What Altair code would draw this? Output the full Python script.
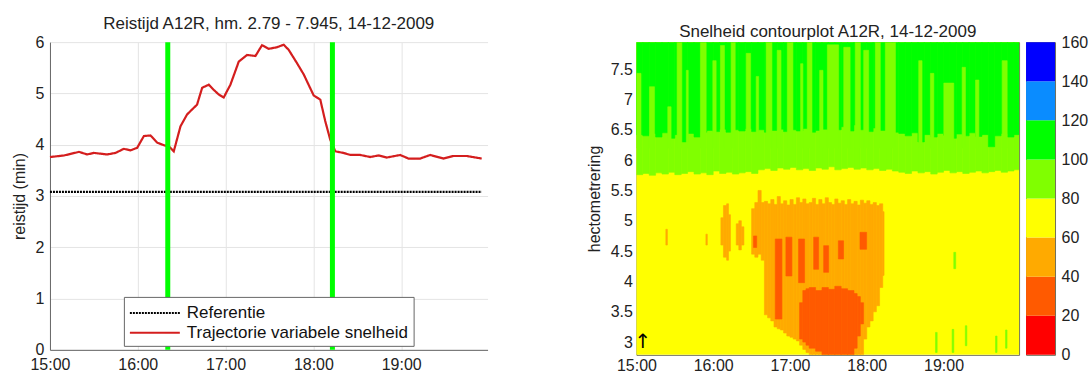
import altair as alt
import pandas as pd

# ---------------- shared axis data ----------------
HOUR_TICKS = [0, 60, 120, 180, 240]          # minutes after 15:00
HOUR_LABELS = ["15:00", "16:00", "17:00", "18:00", "19:00"]
T_MAX = 299

# ---------------- left panel: travel time ----------------
TRAJ_T = [0, 9.6, 19.8, 25.5, 30, 39.1, 44.8, 50.5, 55.1, 59.6, 64.2, 68.7, 73.3,
          77.8, 81.2, 84.6, 89.2, 93.7, 98.3, 100.5, 104, 108.5, 111.9, 115.3,
          118.7, 123.3, 129, 134.7, 140.4, 144.9, 149.5, 155.1, 159.7, 163.1,
          168.8, 173.4, 180.2, 184.7, 188.1, 191.5, 195, 200.6, 205.2, 212,
          218.8, 224.5, 230.2, 239.3, 245, 253, 259.8, 268.9, 275.7, 284.8, 295]
TRAJ_V = [3.76, 3.79, 3.86, 3.81, 3.84, 3.81, 3.84, 3.92, 3.89, 3.94, 4.17, 4.18,
          4.04, 3.99, 3.97, 3.87, 4.36, 4.59, 4.72, 4.78, 5.11, 5.17, 5.07, 4.98,
          4.92, 5.17, 5.62, 5.75, 5.73, 5.94, 5.87, 5.90, 5.95, 5.85, 5.59, 5.37,
          4.96, 4.88, 4.46, 4.10, 3.87, 3.84, 3.80, 3.80, 3.76, 3.79, 3.75, 3.80,
          3.73, 3.73, 3.80, 3.73, 3.78, 3.78, 3.73]
REF_T = [0, 295]
REF_V = [3.08, 3.08]
SERIES = ["Referentie", "Trajectorie variabele snelheid"]
SERIES_COLORS = ["#000000", "#d41e1e"]
SERIES_DASH = [[2, 1], [1, 0]]
GREEN_LINES_T = [80.5, 193.0]
Y_TICKS_LEFT = [0, 1, 2, 3, 4, 5, 6]

# ---------------- right panel: speed contour ----------------
HM_MIN, HM_MAX = 2.79, 7.945
HM_TICKS = [3, 3.5, 4, 4.5, 5, 5.5, 6, 6.5, 7, 7.5]
CLASS_EDGES = [0, 20, 40, 60, 80, 100, 120, 140, 160]
CLASS_COLORS = ["#ff0000", "#ff5a00", "#ffaa00", "#ffff00", "#80ff00",
                "#00ff00", "#0a8cff", "#0000ff"]

COL_STEP = 5  # minutes per column for the band boundaries
# boundary 60-80 | 80-100 (hm) per 5-minute column
B_YELLOW_LIGHTGREEN = [5.76, 5.78, 5.75, 5.79, 5.77, 5.80, 5.76, 5.78, 5.81, 5.77,
                       5.79, 5.76, 5.82, 5.78, 5.80, 5.77, 5.79, 5.81, 5.78,
                       5.84, 5.86, 5.83, 5.87, 5.85, 5.88, 5.84, 5.86, 5.83, 5.87,
                       5.85, 5.89, 5.84, 5.86, 5.88, 5.85, 5.87, 5.84, 5.86, 5.83,
                       5.85, 5.82,
                       5.80, 5.78, 5.82, 5.79, 5.81, 5.77, 5.80, 5.83, 5.79, 5.81,
                       5.78, 5.80, 5.82, 5.79, 5.81, 5.83, 5.80, 5.82, 5.84]
# boundary 80-100 | 100-120 (hm) per 5-minute column
B_LIGHTGREEN_GREEN = [6.42, 6.40, 6.44, 6.38,
                      6.45, 6.36, 6.42, 6.30, 6.44, 6.38, 6.46,
                      6.49, 6.47, 6.51, 6.46, 6.50, 6.48, 6.52, 6.47, 6.50, 6.46,
                      6.49, 6.51, 6.47, 6.50, 6.48, 6.52, 6.46, 6.49, 6.51, 6.47,
                      6.50, 6.55, 6.48, 6.58, 6.50, 6.47, 6.53, 6.49, 6.51, 6.46,
                      6.44, 6.40, 6.45, 6.30, 6.42, 6.38, 6.44, 6.41, 6.36, 6.43,
                      6.40, 6.45, 6.39, 6.42, 6.22, 6.40, 6.44, 6.38, 6.42]
# 80-100 streaks reaching up into the 100-120 zone: (t0, t1, top hm)
LIGHTGREEN_STREAKS = [(0, 3.6, 7.43), (10.2, 14.1, 7.21), (24.5, 27.1, 6.88),
                      (31.8, 35.5, 7.945), (39, 40.5, 7.48), (50, 54.5, 7.945),
                      (59.7, 62.3, 7.64), (65.7, 68.8, 7.89), (74, 77.2, 7.945),
                      (85.8, 89.2, 7.76), (93.6, 95.5, 7.38), (101.4, 105.9, 7.945),
                      (110, 113, 7.81), (117.9, 122.3, 7.945), (128.3, 130.1, 7.59),
                      (133.5, 137.2, 7.945), (143.2, 145.8, 7.48), (149.2, 158, 7.90),
                      (162, 167, 7.86), (171, 175, 7.945), (177.6, 181.5, 7.81),
                      (186.7, 190.6, 7.945), (194.5, 202.4, 7.945), (220.6, 223.2, 7.64),
                      (229.7, 232.4, 7.43), (240.2, 248, 7.27), (254.5, 257.1, 7.53),
                      (265, 267.6, 7.32), (285.8, 289.7, 7.64)]
# small 80-100 specks inside the 60-80 zone: (t0, t1, lo, hi)
LIGHTGREEN_SPECKS = [(233.7, 235.0, 2.83, 3.16), (246.7, 248.0, 2.83, 3.21),
                     (248.0, 249.5, 4.21, 4.48), (257.0, 258.2, 2.94, 3.27),
                     (280.6, 281.8, 2.83, 3.10), (288.4, 289.6, 2.90, 3.20)]
# 40-60 zones: (t0, t1, lo, hi)
ORANGE = [(23.0, 24.2, 4.60, 4.86), (54.3, 55.4, 4.60, 4.78),
          (66, 68, 4.60, 5.05), (68, 70.5, 4.40, 5.25), (70.5, 72, 4.35, 5.28),
          (72, 73.5, 4.50, 5.10),
          (78, 80, 4.60, 4.95), (80, 82, 4.52, 5.00), (82, 84, 4.60, 4.90),
          (90, 92.5, 4.45, 5.20), (92.5, 95, 4.40, 5.30), (95, 97.5, 4.45, 5.50),
          (97.5, 100, 4.35, 5.30), (100, 102.5, 3.45, 5.32), (102.5, 105, 3.40, 5.28),
          (105, 107.5, 3.35, 5.35), (107.5, 110, 3.25, 5.27), (110, 112.5, 3.22, 5.40),
          (112.5, 115, 3.20, 5.28), (115, 117.5, 3.15, 5.33), (117.5, 120, 3.10, 5.26),
          (120, 122.5, 3.08, 5.35), (122.5, 125, 3.05, 5.27), (125, 127.5, 3.02, 5.38),
          (127.5, 130, 2.95, 5.30), (130, 132.5, 2.88, 5.36), (132.5, 135, 2.83, 5.28),
          (135, 137.5, 2.79, 5.30), (137.5, 140, 2.79, 5.37), (140, 142.5, 2.79, 5.27),
          (142.5, 145, 2.79, 5.35), (145, 147.5, 2.79, 5.28), (147.5, 150, 2.79, 5.38),
          (150, 152.5, 2.79, 5.30), (152.5, 155, 2.79, 5.27), (155, 157.5, 2.79, 5.36),
          (157.5, 160, 2.79, 5.29), (160, 162.5, 2.79, 5.33), (162.5, 165, 2.79, 5.27),
          (165, 167.5, 2.79, 5.35), (167.5, 170, 2.79, 5.28), (170, 172.5, 2.79, 5.32),
          (172.5, 175, 2.79, 5.26), (175, 177.5, 2.79, 5.34), (177.5, 180, 3.05, 5.29),
          (180, 182.5, 3.25, 5.33), (182.5, 185, 3.35, 5.27), (185, 187.5, 3.50, 5.30),
          (187.5, 190, 3.60, 5.25), (190, 192.5, 3.90, 5.28), (192.5, 193.5, 4.10, 5.15)]
# 20-40 zones: (t0, t1, lo, hi)
DARK_ORANGE = [(91.5, 94, 4.56, 4.75), (108.5, 113.7, 3.38, 4.70),
               (116.8, 121.5, 4.09, 4.73), (126.7, 131.4, 3.98, 4.70),
               (138.5, 142.4, 4.20, 4.73), (146.3, 150.2, 4.15, 4.59),
               (157.8, 161.9, 4.37, 4.67), (174.7, 179.9, 4.53, 4.81),
               (127.5, 130, 3.05, 3.65), (130, 132.5, 3.00, 3.85),
               (132.5, 135, 2.95, 3.88), (135, 140, 2.90, 3.90),
               (140, 145, 2.85, 3.85), (145, 150, 2.79, 3.90),
               (150, 155, 2.79, 3.87), (155, 160, 2.79, 3.92),
               (160, 165, 2.79, 3.88), (165, 170, 2.79, 3.85),
               (170, 172.5, 2.90, 3.80), (172.5, 175, 3.10, 3.75),
               (175, 177.5, 3.30, 3.65)]
ARROW_T, ARROW_HM = 5, 3.0

# ---------------- build tables ----------------
label_expr = "[" + ",".join(f"'{l}'" for l in HOUR_LABELS) + "][round(datum.value/60)]"

line_df = pd.DataFrame({
    "t": REF_T + TRAJ_T,
    "v": REF_V + TRAJ_V,
    "s": [SERIES[0]] * len(REF_T) + [SERIES[1]] * len(TRAJ_T),
})
green_df = pd.DataFrame({"t": GREEN_LINES_T})


def boxes(items):
    return pd.DataFrame(items, columns=["t0", "t1", "lo", "hi"])


base_df = boxes([(0, 300, HM_MIN, HM_MAX)])
lg_band_df = boxes([(i * COL_STEP, (i + 1) * COL_STEP, b, HM_MAX)
                    for i, b in enumerate(B_YELLOW_LIGHTGREEN)])
g_band_df = boxes([(i * COL_STEP, (i + 1) * COL_STEP, b, HM_MAX)
                   for i, b in enumerate(B_LIGHTGREEN_GREEN)])
lg_extra_df = boxes([(t0, t1, 6.2, top) for t0, t1, top in LIGHTGREEN_STREAKS]
                    + list(LIGHTGREEN_SPECKS))
orange_df = boxes(ORANGE)
dark_df = boxes(DARK_ORANGE)

cbar_df = pd.DataFrame({"lo": CLASS_EDGES[:-1], "hi": CLASS_EDGES[1:], "c": CLASS_COLORS})

LW, LH = 438, 308
RW, RH = 383, 313
CBW = 29

# ---------------- left chart ----------------
legend = alt.Legend(orient="none", legendX=74, legendY=255, fillColor="white",
                    strokeColor="#666666", padding=5, labelFontSize=17,
                    symbolType="M-2.5,0H2.5", symbolSize=400, symbolStrokeWidth=2,
                    symbolOffset=15, labelOffset=21,
                    rowPadding=1, labelLimit=400, labelColor="#111111")

lines = alt.Chart(line_df).mark_line(strokeWidth=2.2).encode(
    x=alt.X("t:Q", scale=alt.Scale(domain=[0, T_MAX], nice=False, zero=False),
            axis=alt.Axis(values=HOUR_TICKS, labelExpr=label_expr, title=None,
                          grid=True, ticks=False, labelPadding=7, domainColor="#666666",
                          gridColor="#e4e4e4", labelFlush=False)),
    y=alt.Y("v:Q", scale=alt.Scale(domain=[0, 6], nice=False),
            axis=alt.Axis(values=Y_TICKS_LEFT, title="reistijd (min)", grid=True,
                          ticks=False, labelPadding=6, titlePadding=8,
                          domainColor="#666666", gridColor="#e4e4e4")),
    color=alt.Color("s:N", scale=alt.Scale(domain=SERIES, range=SERIES_COLORS),
                    legend=legend, title=None),
    strokeDash=alt.StrokeDash("s:N", scale=alt.Scale(domain=SERIES, range=SERIES_DASH),
                              legend=legend, title=None),
)
green = alt.Chart(green_df).mark_rule(color="#00ff00", strokeWidth=5).encode(
    x="t:Q", y=alt.value(0), y2=alt.value(LH))

left = alt.layer(lines, green).properties(
    width=LW, height=LH,
    title="Reistijd A12R, hm. 2.79 - 7.945, 14-12-2009",
    view=alt.ViewBackground(stroke="transparent"),
)

# ---------------- right chart ----------------
x_right = alt.X("t0:Q", scale=alt.Scale(domain=[0, T_MAX], nice=False, zero=False),
                axis=alt.Axis(values=HOUR_TICKS, labelExpr=label_expr, title=None,
                              grid=False, ticks=False, domain=False, labelPadding=3,
                              labelFlush=False))
y_right = alt.Y("lo:Q", scale=alt.Scale(domain=[HM_MIN, HM_MAX], nice=False, zero=False),
                axis=alt.Axis(values=HM_TICKS, format="~g", title="hectometrering",
                              grid=False, ticks=False, domain=False, labelPadding=4,
                              titlePadding=8, labelOverlap=False))


def zone(df, color):
    return alt.Chart(df).mark_rect(clip=True, color=color, stroke=color,
                                   strokeWidth=0.6).encode(
        x=x_right, x2="t1:Q", y=y_right, y2="hi:Q")


layers = [
    zone(base_df, CLASS_COLORS[3]),
    zone(lg_band_df, CLASS_COLORS[4]),
    zone(g_band_df, CLASS_COLORS[5]),
    zone(lg_extra_df, CLASS_COLORS[4]),
    zone(orange_df, CLASS_COLORS[2]),
    zone(dark_df, CLASS_COLORS[1]),
]
arrow_df = pd.DataFrame({"t0": [ARROW_T], "lo": [ARROW_HM], "txt": ["↑"]})
arrow = alt.Chart(arrow_df).mark_text(fontSize=20, font="DejaVu Sans", color="black").encode(
    x=x_right, y=y_right, text="txt:N")

right = alt.layer(*layers, arrow).properties(
    width=RW, height=RH,
    title="Snelheid contourplot A12R, 14-12-2009",
    view=alt.ViewBackground(stroke="#6e6e5a"),
)

cbar = alt.Chart(cbar_df).mark_rect().encode(
    x=alt.value(0), x2=alt.value(CBW),
    y=alt.Y("lo:Q", scale=alt.Scale(domain=[0, 160], nice=False),
            axis=alt.Axis(orient="right", values=CLASS_EDGES, title=None, ticks=False,
                          domain=False, grid=False, labelPadding=6)),
    y2="hi:Q",
    color=alt.Color("c:N", scale=None, legend=None),
).properties(width=CBW, height=RH, view=alt.ViewBackground(stroke="#6e6e5a"))

inner = alt.hconcat(right, cbar, spacing=5).resolve_scale(color="independent")

chart = alt.hconcat(
    left, inner,
    spacing=97,
    padding={"left": 10, "top": 14, "right": 0, "bottom": 0},
).resolve_scale(color="independent", strokeDash="independent").configure(
    font="Liberation Sans"
).configure_axis(
    labelFontSize=16, titleFontSize=16, titleFontWeight="normal",
    labelColor="#222222", titleColor="#222222",
).configure_title(
    fontSize=17, fontWeight="normal", color="#222222", frame="group", offset=1,
)

chart.save("out.html", embed_options={"renderer": "svg", "actions": False})
